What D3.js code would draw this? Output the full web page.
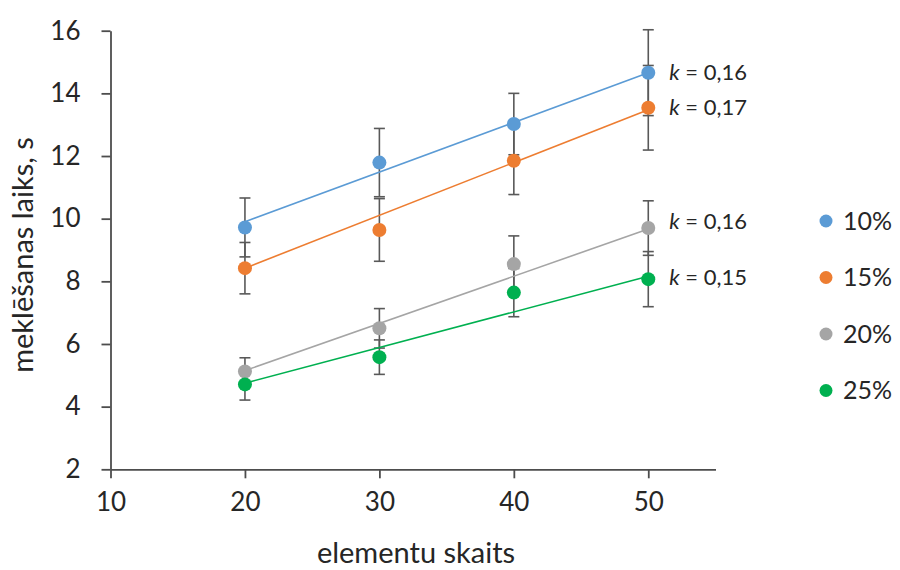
<!DOCTYPE html>
<html>
<head>
<meta charset="utf-8">
<script src="https://cdn.jsdelivr.net/npm/d3@7"></script>
<style>
  html, body { margin: 0; padding: 0; background: #fff; }
  svg { display: block; font-family: Lato, "Open Sans", sans-serif; }
</style>
</head>
<body>
<svg id="chart" width="900" height="570"></svg>
<script>
// Element counts on the horizontal axis
const counts = [20, 30, 40, 50];

// Series names (share of elements) and colours
const seriesNames = ["10%", "15%", "20%", "25%"];
const seriesColors = ["#5B9BD5", "#ED7D31", "#A5A5A5", "#00B050"];

// Mean search time, s
const time10 = [9.72, 11.79, 13.02, 14.66];
const time15 = [8.42, 9.64, 11.85, 13.54];
const time20 = [5.12, 6.50, 8.55, 9.70];
const time25 = [4.71, 5.58, 7.64, 8.07];

// Error bar half-widths, s
const err10 = [0.94, 1.09, 0.98, 1.37];
const err15 = [0.82, 1.00, 1.08, 1.35];
const err20 = [0.44, 0.63, 0.90, 0.87];
const err25 = [0.50, 0.55, 0.77, 0.88];

// Linear trend lines: value at the first and last count
const trendStart = [9.90, 8.42, 5.15, 4.75];
const trendEnd = [14.66, 13.48, 9.67, 8.16];

// Slope labels
const slopeLabels = ["0,16", "0,17", "0,16", "0,15"];

// Axis ticks
const xTicks = [10, 20, 30, 40, 50];
const yTicks = [2, 4, 6, 8, 10, 12, 14, 16];

const means = [time10, time15, time20, time25];
const errs = [err10, err15, err20, err25];

const svg = d3.select("#chart");
const x = d3.scaleLinear().domain([10, 55]).range([110.5, 715.5]);
const y = d3.scaleLinear().domain([2, 16]).range([469.3, 30.7]);

const axisColor = "#4d4d4d";
const textColor = "#262626";

// Axes
const xAxis = svg.append("g")
  .attr("transform", `translate(0,${y(2)})`)
  .call(d3.axisBottom(x).tickValues(xTicks).tickSizeInner(9).tickSizeOuter(0).tickPadding(14));
const yAxis = svg.append("g")
  .attr("transform", `translate(${x(10)},0)`)
  .call(d3.axisLeft(y).tickValues(yTicks).tickSizeInner(9).tickSizeOuter(0).tickPadding(21));
[xAxis, yAxis].forEach(g => {
  g.select(".domain").attr("stroke", axisColor).attr("stroke-width", 1.8);
  g.selectAll(".tick line").attr("stroke", axisColor).attr("stroke-width", 1.8);
  g.selectAll(".tick text")
    .attr("fill", textColor)
    .style("font-family", "Lato, sans-serif")
    .style("font-size", "26px");
});

// Axis titles
svg.append("text")
  .attr("x", 416).attr("y", 563)
  .attr("text-anchor", "middle")
  .attr("fill", textColor)
  .style("font-size", "29px")
  .text("elementu skaits");
svg.append("text")
  .attr("transform", "translate(33,255) rotate(-90)")
  .attr("text-anchor", "middle")
  .attr("fill", textColor)
  .style("font-size", "29px")
  .text("meklēšanas laiks, s");

const plot = svg.append("g");

// Error bars
means.forEach((vals, s) => {
  const g = plot.append("g");
  counts.forEach((c, i) => {
    const lo = y(vals[i] - errs[s][i]);
    const hi = y(vals[i] + errs[s][i]);
    const cx = x(c);
    g.append("line").attr("x1", cx).attr("x2", cx).attr("y1", lo).attr("y2", hi);
    g.append("line").attr("x1", cx - 5.5).attr("x2", cx + 5.5).attr("y1", lo).attr("y2", lo);
    g.append("line").attr("x1", cx - 5.5).attr("x2", cx + 5.5).attr("y1", hi).attr("y2", hi);
  });
  g.selectAll("line").attr("stroke", "#595959").attr("stroke-width", 1.6);
});

// Trend lines
means.forEach((vals, s) => {
  plot.append("line")
    .attr("x1", x(counts[0])).attr("y1", y(trendStart[s]))
    .attr("x2", x(counts[counts.length - 1])).attr("y2", y(trendEnd[s]))
    .attr("stroke", seriesColors[s])
    .attr("stroke-width", 1.6);
});

// Markers
means.forEach((vals, s) => {
  plot.append("g").selectAll("circle")
    .data(counts.map((c, i) => [c, vals[i]]))
    .join("circle")
    .attr("cx", d => x(d[0]))
    .attr("cy", d => y(d[1]))
    .attr("r", 7)
    .attr("fill", seriesColors[s]);
});

// Slope labels next to the last point of each series
const labelShift = [0, 0, -7, -2];
means.forEach((vals, s) => {
  const t = svg.append("text")
    .attr("x", x(counts[counts.length - 1]) + 21)
    .attr("y", y(vals[vals.length - 1]) + labelShift[s])
    .attr("dy", "0.35em")
    .attr("fill", textColor)
    .style("font-size", "22px");
  t.append("tspan").attr("font-style", "italic").text("k");
  t.append("tspan").text(" = " + slopeLabels[s]);
});

// Legend
const legend = svg.append("g").attr("transform", "translate(826,0)");
seriesNames.forEach((name, s) => {
  const ly = 221 + s * 56.5;
  legend.append("circle").attr("cx", 0).attr("cy", ly).attr("r", 6.5).attr("fill", seriesColors[s]);
  legend.append("text")
    .attr("x", 17).attr("y", ly).attr("dy", "0.35em")
    .attr("fill", textColor)
    .style("font-size", "25px")
    .text(name);
});
</script>
</body>
</html>
